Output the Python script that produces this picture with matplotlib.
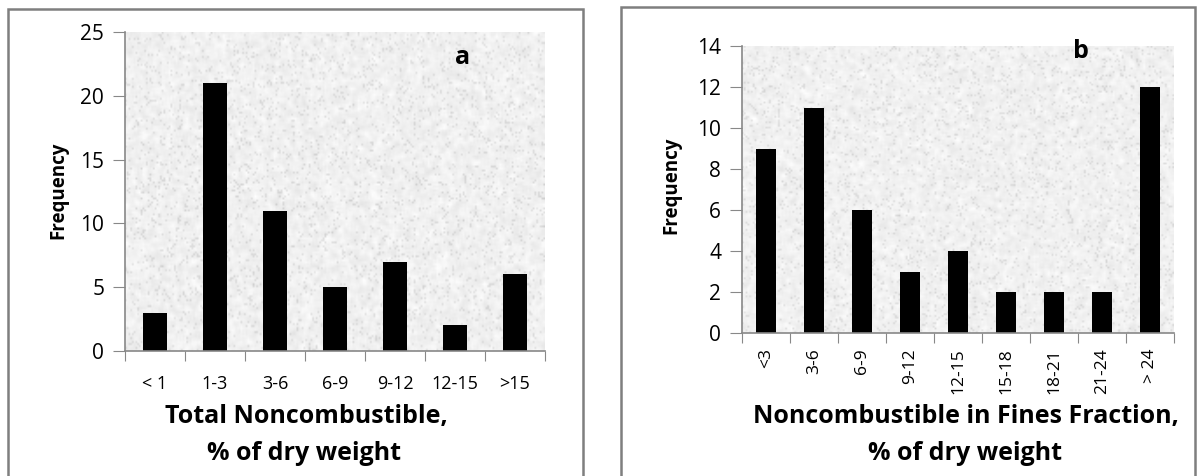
import numpy as np
import matplotlib
matplotlib.use('Agg')
import matplotlib.pyplot as plt
from matplotlib.patches import Rectangle

plt.rcParams['font.family'] = ['Open Sans', 'DejaVu Sans']

# Data
cats_a = ['< 1', '1-3', '3-6', '6-9', '9-12', '12-15', '>15']
freq_a = [3, 21, 11, 5, 7, 2, 6]
cats_b = ['<3', '3-6', '6-9', '9-12', '12-15', '15-18', '18-21', '21-24', '> 24']
freq_b = [9, 11, 6, 3, 4, 2, 2, 2, 12]

W, H = 1197, 476
fig = plt.figure(figsize=(W / 100, H / 100), dpi=100)
fig.patch.set_facecolor('white')


def px_axes(x0, x1, ytop, ybot):
    return fig.add_axes([x0 / W, (H - ybot) / H, (x1 - x0) / W, (ybot - ytop) / H])


# granite-like background texture (decoration only)
def texture(seed, shape=(160, 240)):
    rng = np.random.default_rng(seed)
    n = rng.random(shape)
    pad = np.pad(n, 1, mode='wrap')
    sm = sum(pad[i:i + shape[0], j:j + shape[1]] for i in range(3) for j in range(3)) / 9.0
    sm = (sm - sm.min()) / (sm.max() - sm.min())
    img = 0.89 + 0.11 * sm
    specks = rng.random(shape) > 0.92
    img[specks] -= 0.09
    return np.clip(img, 0, 1)


def style(ax, cats, vals, ymax, ystep, rot, xfs, seed, width):
    x = np.arange(len(cats))
    ax.imshow(texture(seed), cmap='gray', vmin=0, vmax=1, extent=(0, 1, 0, 1),
              transform=ax.transAxes, aspect='auto', zorder=0, interpolation='bilinear')
    ax.bar(x, vals, width=width, color='black', zorder=2)
    ax.set_xlim(-0.5, len(cats) - 0.5)
    ax.set_ylim(0, ymax)
    ax.set_yticks(np.arange(0, ymax + 0.1, ystep))
    ax.set_xticks(np.arange(-0.5, len(cats), 1.0))
    ax.set_xticklabels([])
    ax.set_xticks(x, minor=True)
    if rot:
        ax.set_xticklabels(cats, minor=True, rotation=90, fontsize=xfs, va='top', ha='center')
        ax.tick_params(axis='x', which='minor', length=0, pad=11)
    else:
        ax.set_xticklabels(cats, minor=True, fontsize=xfs)
        ax.tick_params(axis='x', which='minor', length=0, pad=17)
    ax.tick_params(axis='x', which='major', length=7, color='#888888', direction='out')
    ax.tick_params(axis='y', length=9, color='#888888', labelsize=15, pad=6)
    for s in ['top', 'right']:
        ax.spines[s].set_visible(False)
    for s in ['left', 'bottom']:
        ax.spines[s].set_color('#888888')
        ax.spines[s].set_linewidth(1.2)


ax_a = px_axes(125, 545, 32, 351)
style(ax_a, cats_a, freq_a, 25, 5, False, 13, 1, 0.4)
ax_b = px_axes(742, 1174, 46, 333)
style(ax_b, cats_b, freq_b, 14, 2, True, 12.5, 2, 0.42)

# panel borders
for x0, x1, y0 in [(8, 583, 9), (621, 1195, 7)]:
    fig.patches.append(Rectangle((x0 / W, -0.05), (x1 - x0) / W, (H - y0) / H + 0.05,
                                 transform=fig.transFigure, fill=False,
                                 edgecolor='#7f7f7f', linewidth=1.8))


def ftext(x, y, s, **kw):
    fig.text(x / W, (H - y) / H, s, **kw)


ftext(58, 190, 'Frequency', rotation=90, ha='center', va='center', fontsize=13.5, fontweight='bold')
ftext(671, 185, 'Frequency', rotation=90, ha='center', va='center', fontsize=13.5, fontweight='bold')
ftext(463, 57, 'a', ha='center', va='center', fontsize=18, fontweight='bold')
ftext(1081, 51, 'b', ha='center', va='center', fontsize=18, fontweight='bold')
ftext(306, 417, 'Total Noncombustible,', ha='center', va='center', fontsize=18, fontweight='bold')
ftext(304, 453, '% of dry weight', ha='center', va='center', fontsize=18, fontweight='bold')
ftext(966, 417, 'Noncombustible in Fines Fraction,', ha='center', va='center', fontsize=18, fontweight='bold')
ftext(965, 453, '% of dry weight', ha='center', va='center', fontsize=18, fontweight='bold')

fig.savefig('out.png', dpi=100)
